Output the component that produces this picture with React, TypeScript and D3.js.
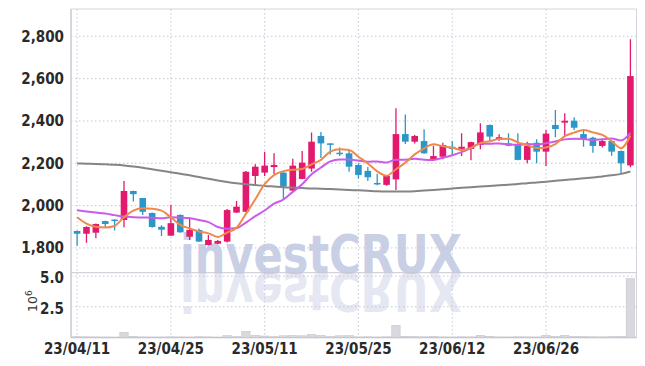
import React from "react";
import * as d3 from "d3";

const dates = [
  "23/04/11","23/04/12","23/04/13","23/04/14","23/04/17","23/04/18","23/04/19","23/04/20","23/04/21","23/04/24",
  "23/04/25","23/04/26","23/04/27","23/04/28","23/05/02","23/05/03","23/05/04","23/05/08","23/05/09","23/05/10",
  "23/05/11","23/05/12","23/05/15","23/05/16","23/05/17","23/05/18","23/05/19","23/05/22","23/05/23","23/05/24",
  "23/05/25","23/05/26","23/05/30","23/05/31","23/06/01","23/06/02","23/06/05","23/06/07","23/06/08","23/06/09",
  "23/06/12","23/06/13","23/06/14","23/06/15","23/06/16","23/06/19","23/06/20","23/06/21","23/06/22","23/06/23",
  "23/06/26","23/06/27","23/06/28","23/06/29","23/06/30","23/07/03","23/07/04","23/07/05","23/07/06","23/07/07",
];
const opens = [1880,1867,1872,1927,1934,1932,2069,2036,1965,1900,1858,1956,1853,1885,1814,1820,1830,1967,1971,2140,2156,2182,2156,2071,2126,2175,2329,2294,2250,2247,2192,2164,2107,2098,2124,2338,2302,2305,2219,2231,2278,2268,2268,2286,2381,2310,2294,2286,2216,2297,2255,2381,2392,2401,2338,2321,2282,2305,2258,2190];
const highs = [1882,1902,1916,1928,1935,2116,2070,2036,1968,1907,2004,1958,1945,1892,1861,1838,1984,2022,2163,2195,2255,2247,2158,2222,2258,2346,2348,2295,2275,2258,2200,2183,2150,2145,2460,2431,2334,2361,2283,2297,2305,2342,2302,2389,2383,2337,2342,2342,2302,2313,2357,2452,2436,2417,2357,2325,2310,2307,2260,2786];
const lows = [1810,1825,1846,1896,1882,1898,2019,1956,1895,1857,1856,1872,1838,1828,1812,1818,1826,1965,1969,2098,2140,2149,2027,2068,2124,2160,2225,2242,2235,2160,2128,2116,2096,2094,2074,2291,2294,2245,2214,2219,2239,2234,2214,2266,2306,2307,2281,2214,2200,2200,2187,2323,2326,2357,2278,2250,2275,2236,2153,2181];
const closes = [1867,1899,1913,1913,1930,2069,2054,1971,1899,1886,1917,1874,1885,1830,1838,1833,1979,1995,2160,2184,2189,2192,2090,2189,2203,2302,2294,2287,2246,2184,2145,2134,2103,2140,2338,2302,2329,2247,2234,2286,2268,2278,2300,2346,2326,2323,2283,2216,2282,2255,2340,2362,2401,2368,2315,2282,2305,2255,2200,2612];
const volumes = [0.06,0.05,0.04,0.03,0.02,0.42,0.08,0.04,0.03,0.03,0.05,0.04,0.03,0.06,0.04,0.02,0.15,0.06,0.5,0.18,0.12,0.06,0.14,0.15,0.14,0.25,0.17,0.06,0.14,0.15,0.04,0.05,0.03,0.05,0.98,0.08,0.06,0.05,0.07,0.04,0.03,0.05,0.04,0.17,0.08,0.04,0.03,0.05,0.04,0.03,0.17,0.08,0.17,0.07,0.06,0.05,0.04,0.06,0.08,4.8];
const ma5 = [1945,1915,1900,1897,1904,1945,1976,1987,1985,1976,1945,1909,1892,1878,1869,1852,1873,1895,1961,2030,2101,2144,2163,2169,2173,2195,2216,2255,2266,2263,2231,2199,2162,2141,2172,2203,2242,2271,2290,2280,2273,2263,2273,2296,2304,2315,2316,2299,2286,2272,2275,2291,2328,2345,2357,2346,2334,2305,2271,2331];
const ma10 = [1978,1972,1967,1963,1955,1948,1945,1944,1943,1940,1945,1943,1940,1932,1922,1899,1891,1894,1920,1950,1977,2009,2029,2065,2101,2148,2180,2209,2218,2218,2213,2207,2209,2204,2217,2217,2221,2217,2216,2226,2238,2253,2272,2293,2292,2294,2289,2286,2291,2288,2295,2303,2313,2316,2315,2310,2313,2317,2308,2344];
const ma60 = [2199,2198,2197,2195,2193,2190,2185,2179,2172,2165,2158,2151,2143,2135,2127,2119,2112,2106,2101,2097,2093,2090,2087,2085,2083,2081,2080,2078,2076,2074,2072,2070,2068,2067,2067,2067,2068,2071,2074,2077,2081,2084,2087,2090,2093,2096,2099,2102,2106,2109,2113,2117,2121,2125,2129,2133,2138,2143,2150,2161];
const priceTicks = [1800, 2000, 2200, 2400, 2600, 2800];
const volTicks = [2.5, 5.0];
const tickEvery = 10;

const W = 645, H = 366;
const L = 71, R = 636.5, T = 9, MID = 272.7, B = 337.5;
const UP = "#e2196c", DOWN = "#2b96c8";
const GRID = "#c6c6da";
const FONT = "'Liberation Sans Narrow', 'DejaVu Sans Condensed', sans-serif";

export default function App() {
  const x = d3.scaleBand<string>().domain(dates).range([L, R]).padding(0.3);
  const step = x.step();
  const cx = (i: number) => (x(dates[i]) as number) + x.bandwidth() / 2;
  const y = d3.scaleLinear().domain([1683, 2929]).range([MID, T]);
  const yv = d3.scaleLinear().domain([0, 5.28]).range([B, MID]);
  const fmt = d3.format(",");
  const line = (arr: number[]) =>
    d3.line<number>().x((_, i) => cx(i)).y((v) => y(v)).curve(d3.curveMonotoneX)(arr) as string;
  const tickIdx = dates.map((_, i) => i).filter((i) => i % tickEvery === 0);

  return (
    <svg width={W} height={H} style={{ position: "absolute", left: 0, top: 0, background: "#fff" }} fontFamily={FONT}>
      <defs>
        <clipPath id="plot"><rect x={L} y={T} width={R - L} height={B - T} /></clipPath>
      </defs>
      {/* watermark with reflection */}
      <g clipPath="url(#plot)">
        <text id="wm" x={180} y={MID} fontFamily="'DejaVu Sans', sans-serif" fontWeight="bold" fontSize={53}
          textLength={282} lengthAdjust="spacingAndGlyphs" fill="#c9d0e6">investCRUX</text>
        <use href="#wm" transform={`translate(0,${2 * MID}) scale(1,-1)`} opacity={0.48} />
      </g>
      {/* grid */}
      {priceTicks.map((t) => (
        <line key={"hg" + t} x1={L} x2={R} y1={y(t)} y2={y(t)} stroke={GRID} strokeDasharray="1.5,2.5" />
      ))}
      {volTicks.map((t) => (
        <line key={"vg" + t} x1={L} x2={R} y1={yv(t)} y2={yv(t)} stroke={GRID} strokeDasharray="1.5,2.5" />
      ))}
      {tickIdx.map((i) => (
        <line key={"xg" + i} x1={cx(i)} x2={cx(i)} y1={T} y2={B} stroke={GRID} strokeDasharray="1.5,2.5" />
      ))}
      {/* frame */}
      <line x1={L} x2={R} y1={T} y2={T} stroke="#d4d4dc" />
      <line x1={L} x2={L} y1={T} y2={B} stroke="#c8c8d0" strokeWidth={1.5} />
      <line x1={R} x2={R} y1={T} y2={B} stroke="#d4d4dc" />
      <line x1={L} x2={R} y1={MID} y2={MID} stroke="#c8c8d4" />
      <line x1={L} x2={R} y1={B} y2={B} stroke="#c0c0c8" strokeWidth={1.5} />
      {/* volume */}
      {volumes.map((v, i) => (
        <rect key={"v" + i} x={cx(i) - step / 2 + 0.5} width={step - 1} y={yv(v)} height={B - yv(v)}
          fill="#d8d8de" stroke="#c4c4cc" strokeWidth={0.6} />
      ))}
      {/* candles */}
      <g clipPath="url(#plot)">
        {dates.map((d, i) => {
          const up = closes[i] >= opens[i];
          const col = up ? UP : DOWN;
          const top = y(Math.max(opens[i], closes[i]));
          const bot = y(Math.min(opens[i], closes[i]));
          return (
            <g key={d}>
              <line x1={cx(i)} x2={cx(i)} y1={y(highs[i])} y2={y(lows[i])} stroke={col} strokeWidth={1.3} />
              <rect x={cx(i) - 3.3} width={6.6} y={top} height={Math.max(1.5, bot - top)} fill={col} />
            </g>
          );
        })}
        <path d={line(ma60)} fill="none" stroke="#858585" strokeWidth={2} />
        <path d={line(ma10)} fill="none" stroke="#c95ce8" strokeWidth={2} />
        <path d={line(ma5)} fill="none" stroke="#ef8a4c" strokeWidth={2} />
      </g>
      {/* axes labels */}
      {priceTicks.map((t) => (
        <text key={"pl" + t} x={64} y={y(t)} dy="0.35em" textAnchor="end" fontSize={15} fontWeight="bold" fill="#2a2a2a">
          {fmt(t)}
        </text>
      ))}
      {volTicks.map((t) => (
        <text key={"vl" + t} x={64} y={yv(t) + 2} dy="0.35em" textAnchor="end" fontSize={15} fontWeight="bold" fill="#2a2a2a">
          {d3.format(".1f")(t)}
        </text>
      ))}
      {tickIdx.map((i) => (
        <text key={"xl" + i} x={cx(i)} y={354} textAnchor="middle" fontSize={15} fontWeight="bold" fill="#2a2a2a">
          {dates[i]}
        </text>
      ))}
      <text transform="translate(37,312) rotate(-90)" fontSize={12.5} fill="#333" fontFamily="'DejaVu Sans', sans-serif">
        10<tspan dy={-5} fontSize={9}>6</tspan>
      </text>
    </svg>
  );
}
